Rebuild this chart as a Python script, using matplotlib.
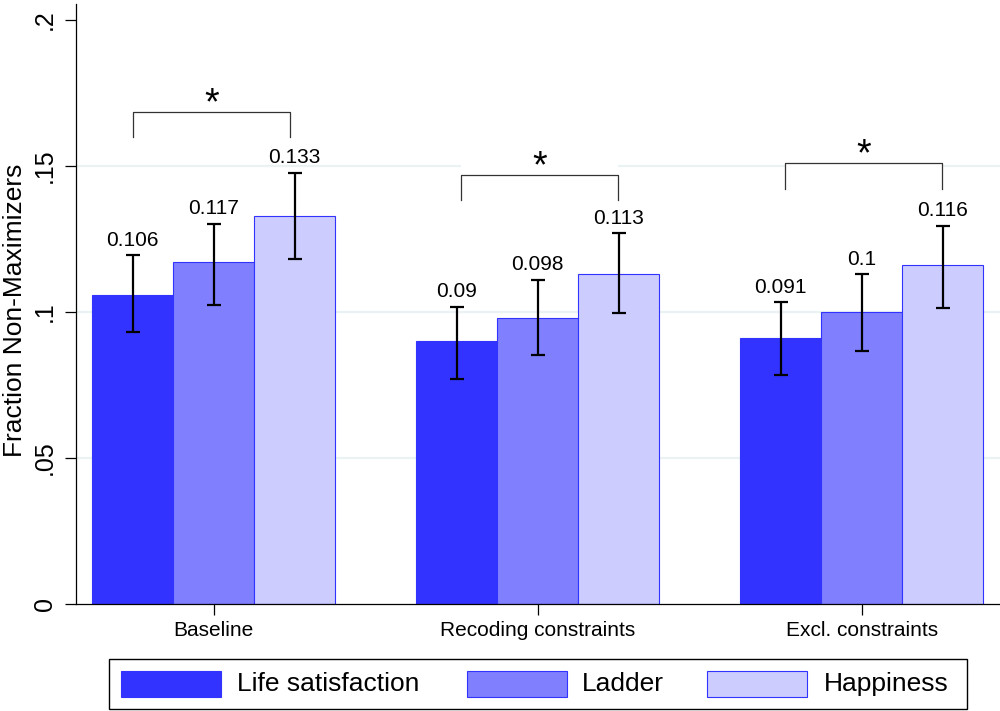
import matplotlib
matplotlib.use('Agg')
import matplotlib.pyplot as plt
from matplotlib.patches import Rectangle
import numpy as np

plt.rcParams['font.family'] = ['Liberation Sans', 'DejaVu Sans']

categories = ['Baseline', 'Recoding constraints', 'Excl. constraints']
series_names = ['Life satisfaction', 'Ladder', 'Happiness']

life_vals = [0.106, 0.090, 0.091]
ladder_vals = [0.117, 0.098, 0.100]
happy_vals = [0.133, 0.113, 0.116]
value_labels = [['0.106', '0.09', '0.091'],
                ['0.117', '0.098', '0.1'],
                ['0.133', '0.113', '0.116']]

life_lo = [0.0932, 0.0771, 0.0784]
life_hi = [0.1195, 0.1018, 0.1033]
ladder_lo = [0.1024, 0.0853, 0.0866]
ladder_hi = [0.1302, 0.1110, 0.1130]
happy_lo = [0.1180, 0.0995, 0.1015]
happy_hi = [0.1477, 0.1269, 0.1295]

sig_top = [0.1685, 0.1469, 0.1509]
sig_text = ['*', '*', '*']

yticks = [0, 0.05, 0.1, 0.15, 0.2]
ytick_labels = ['0', '.05', '.1', '.15', '.2']

colors = ['#3333ff', '#8080ff', '#ccccff']
edge = '#3333ff'

W, H = 1000, 711
fig = plt.figure(figsize=(W / 100, H / 100), dpi=100)
ax = fig.add_axes([76 / W, 107 / H, 924 / W, 600 / H])

x = np.arange(len(categories))
bw = 0.25
all_vals = [life_vals, ladder_vals, happy_vals]
all_lo = [life_lo, ladder_lo, happy_lo]
all_hi = [life_hi, ladder_hi, happy_hi]

for g in yticks[1:-1]:
    ax.axhline(g, color='#eaf2f3', lw=1.6, zorder=0)

for i, (vals, lo, hi) in enumerate(zip(all_vals, all_lo, all_hi)):
    pos = x + (i - 1) * bw
    ax.bar(pos, vals, width=bw, color=colors[i], edgecolor=edge, linewidth=0.8,
           zorder=2, label=series_names[i])
    vals_a = np.array(vals)
    err = [vals_a - np.array(lo), np.array(hi) - vals_a]
    ax.errorbar(pos, vals, yerr=err, fmt='none', ecolor='black', elinewidth=1.6,
                capsize=4.7, capthick=1.6, zorder=3)
    for j in range(len(pos)):
        ax.annotate(value_labels[i][j], (pos[j], hi[j]), xytext=(0, 4),
                    textcoords='offset points', ha='center', va='bottom',
                    fontsize=15, zorder=4)

leg = 0.0086
half = 0.2425
shift = [-0.007, 0.006, 0.005]
for j in range(len(categories)):
    c = x[j] + shift[j]
    xl = c - half
    xr = c + half
    top = sig_top[j]
    ax.add_patch(Rectangle((xl, top - leg), xr - xl, leg + 0.0095,
                           facecolor='white', edgecolor='none', zorder=1))
    ax.plot([xl, xl, xr, xr], [top - leg, top, top, top - leg],
            color='#333333', lw=0.9, zorder=4)
    ax.text(c, top - 0.0008, sig_text[j], ha='center', va='baseline',
            fontsize=27, zorder=5)

ax.set_xlim(-0.425, 2.427)
ax.set_ylim(0, 0.2055)
ax.set_yticks(yticks)
ax.set_yticklabels(ytick_labels, rotation=90, va='center', fontsize=18)
ax.set_xticks(x)
ax.set_xticklabels(categories, fontsize=15)
ax.tick_params(axis='y', length=8, width=0.9, pad=6)
ax.tick_params(axis='x', length=8, width=0.9, pad=4)
for s in ['top', 'right']:
    ax.spines[s].set_visible(False)
for s in ['left', 'bottom']:
    ax.spines[s].set_linewidth(0.9)

fig.text(15 / W, 1 - 310 / H, 'Fraction Non-Maximizers', rotation=90,
         ha='center', va='center', fontsize=19)

# legend
def fx(px):
    return px / W

def fy(py):
    return 1 - py / H

fig.add_artist(Rectangle((fx(109), fy(709)), fx(967) - fx(109), (709 - 659) / H,
                         transform=fig.transFigure, facecolor='white',
                         edgecolor='black', lw=1.0))
patch_x = [121, 467, 707]
text_x = [237, 582, 824]
for i in range(3):
    fig.add_artist(Rectangle((fx(patch_x[i]), fy(697)), 100 / W, 26 / H,
                             transform=fig.transFigure, facecolor=colors[i],
                             edgecolor=edge, lw=0.8))
    fig.text(fx(text_x[i]), fy(684), series_names[i], ha='left', va='center',
             fontsize=19)

fig.savefig('out.png', dpi=100)
